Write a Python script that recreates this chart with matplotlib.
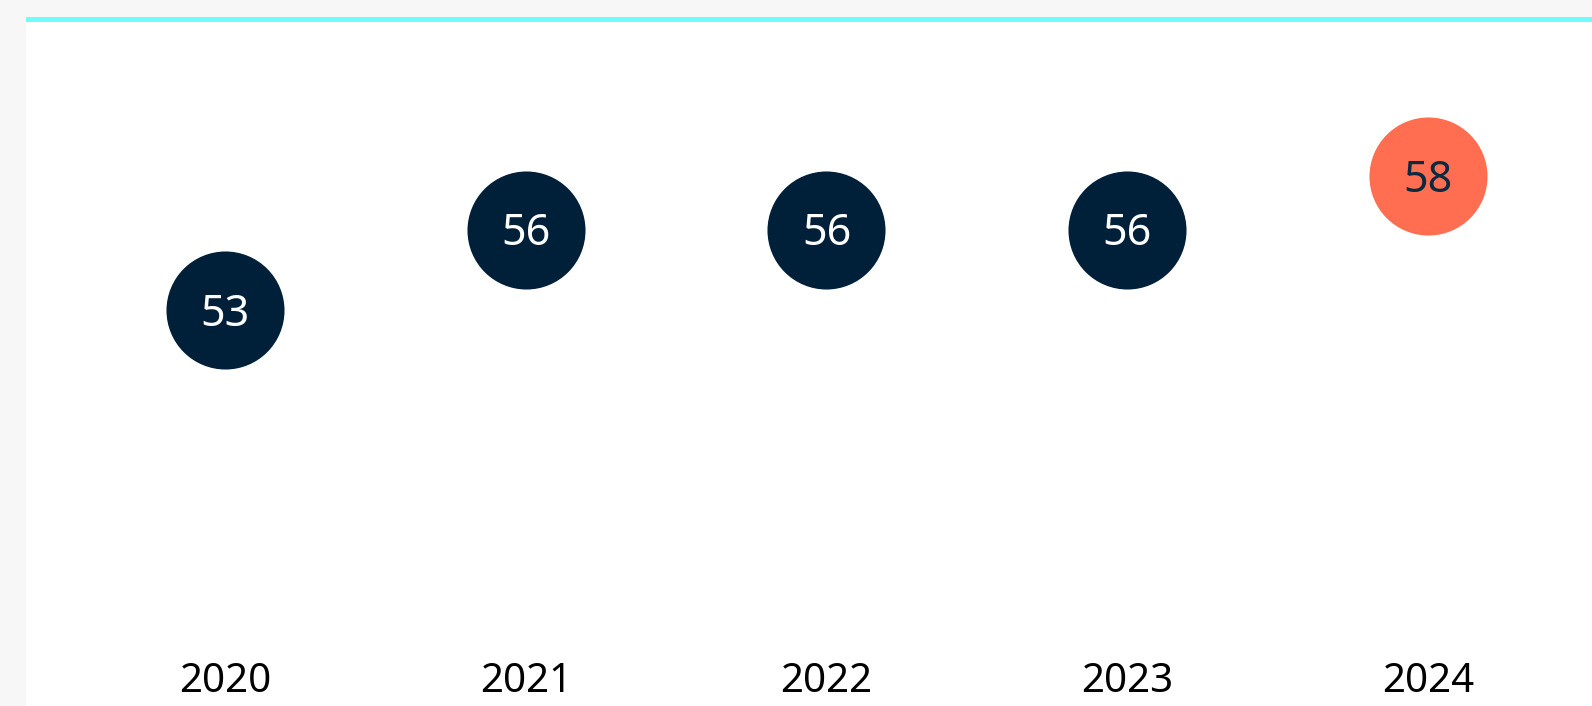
import matplotlib.pyplot as plt
from matplotlib.patches import Rectangle
from matplotlib.transforms import blended_transform_factory

# data
years = ['2020', '2021', '2022', '2023', '2024']
scores = [53, 56, 56, 56, 58]
highlight = '2024'

navy = '#00203a'
coral = '#ff6e50'
cyan = '#6dfdfd'
page_grey = '#f7f7f7'

W, H = 1592, 706
fig = plt.figure(figsize=(W / 100, H / 100), dpi=100, facecolor=page_grey)

# white card with cyan top rule
fig.patches.append(Rectangle((26 / W, 0), 1 - 26 / W, 1 - 17 / H,
                             transform=fig.transFigure, facecolor='white',
                             edgecolor='none', zorder=0))
fig.patches.append(Rectangle((26 / W, 1 - 22 / H), 1 - 26 / W, 5 / H,
                             transform=fig.transFigure, facecolor=cyan,
                             edgecolor='none', zorder=1))

ax = fig.add_axes([0, 0, 1, 1])
ax.set_zorder(5)
ax.patch.set_alpha(0)
ax.set_axis_off()

xs = list(range(len(years)))
step = 300.75
ax.set_xlim(-225 / step, (W - 225) / step)
px_per_unit = 26.7
ax.set_ylim(58 - (H - 176.5) / px_per_unit, 58 + 176.5 / px_per_unit)

for x, yr, v in zip(xs, years, scores):
    hot = yr == highlight
    ax.plot(x, v, 'o', markersize=85, color=coral if hot else navy,
            markeredgewidth=0, zorder=3)
    ax.annotate(str(v), (x, v), xytext=(0, -11.2), textcoords='offset points',
                ha='center', va='baseline', fontsize=31, family='Noto Sans',
                color='#0b2a40' if hot else 'white', zorder=4)

trans = blended_transform_factory(ax.transData, ax.transAxes)
for x, yr in zip(xs, years):
    ax.text(x, 1 - 692 / H, yr, transform=trans, ha='center', va='baseline',
            fontsize=29, family='Noto Sans', color='black')

fig.savefig('out.png', dpi=100, facecolor=page_grey)
